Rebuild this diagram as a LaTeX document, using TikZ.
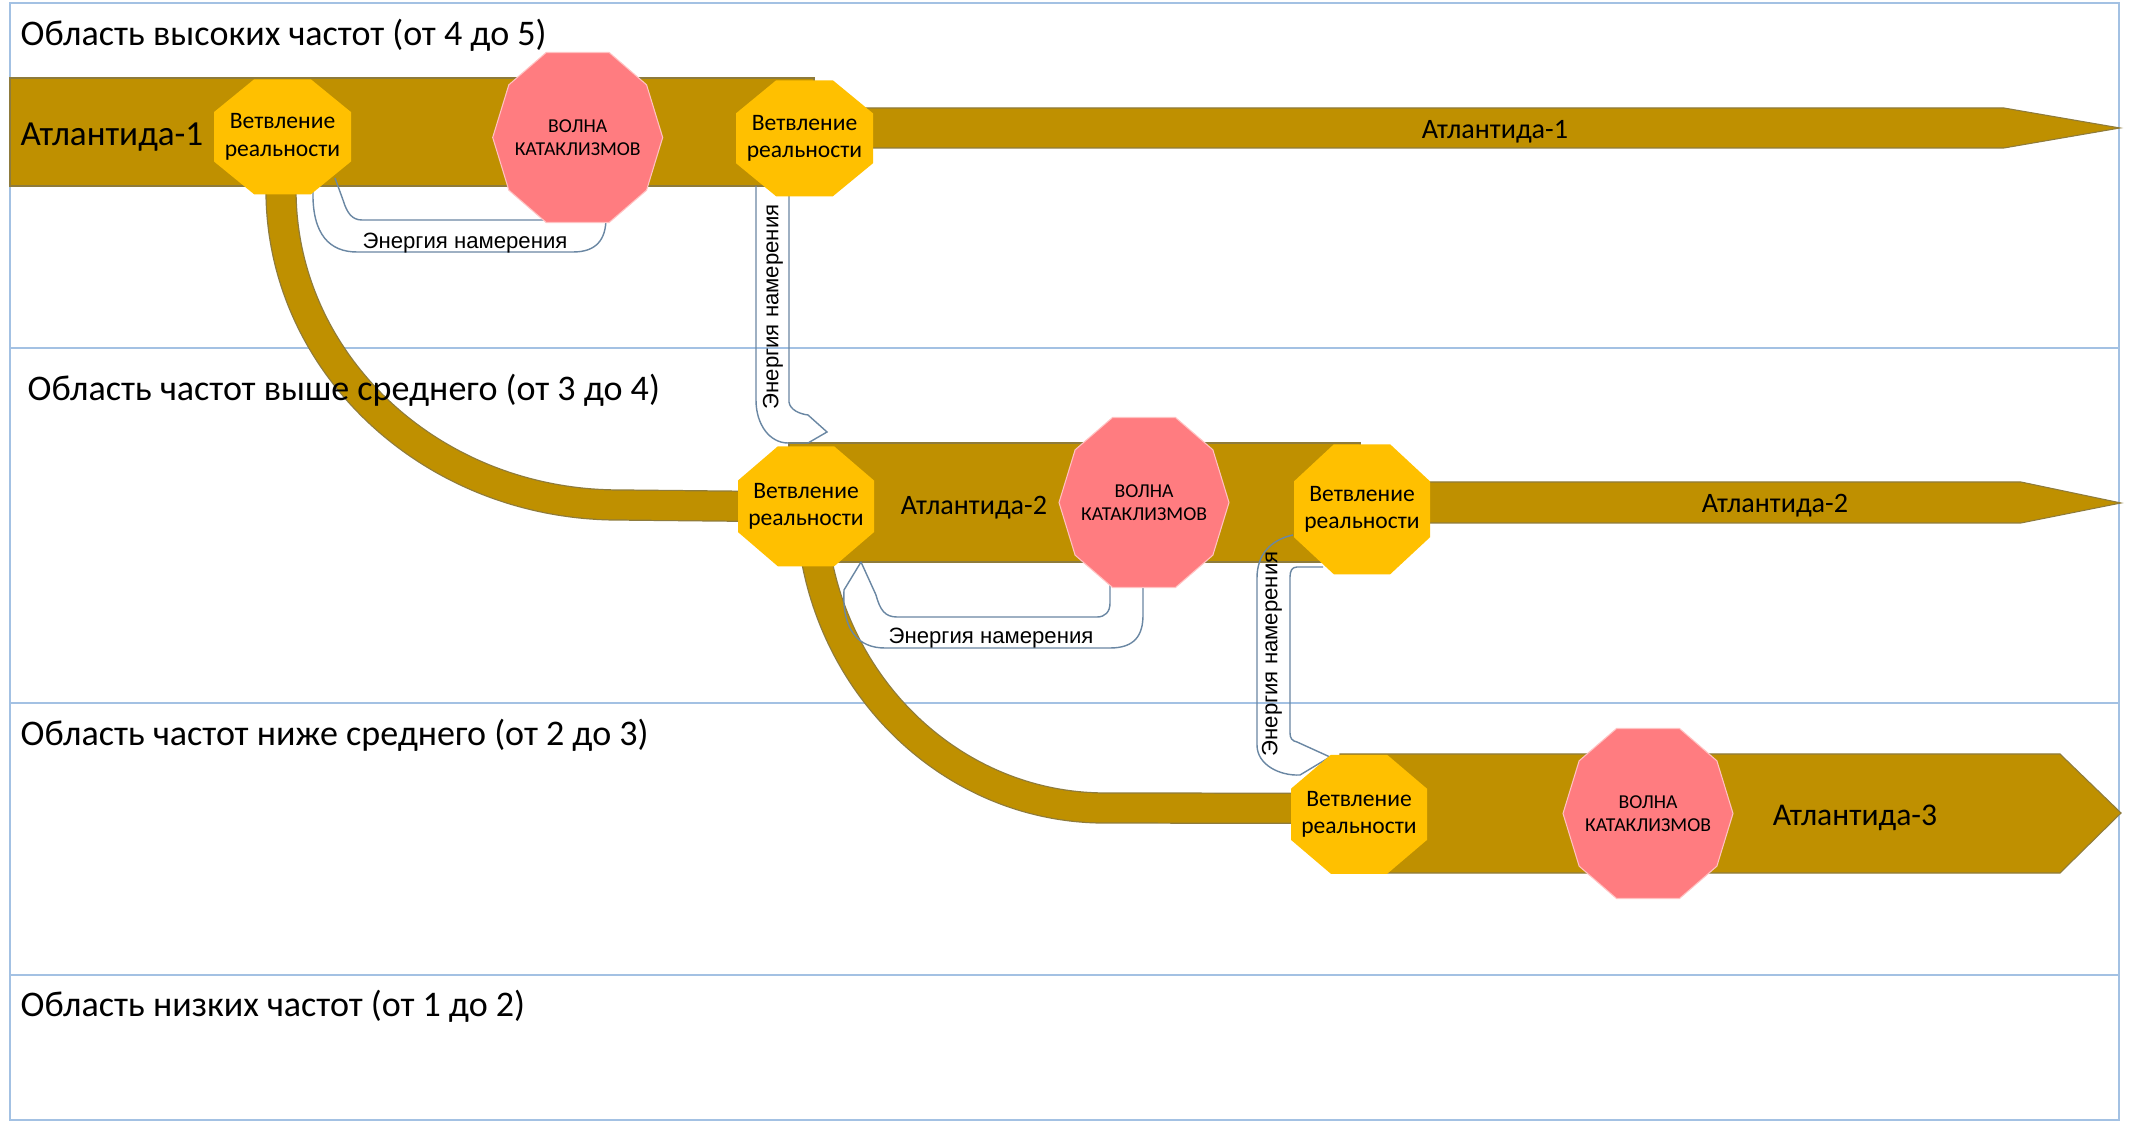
\documentclass[tikz,border=0pt]{standalone}
\usepackage{fontspec}
\setmainfont{Carlito}
\newfontfamily\arialf{Liberation Sans}
\usetikzlibrary{calc}
\definecolor{gold}{HTML}{BF9000}
\definecolor{goldedge}{HTML}{8E7B3C}
\definecolor{orangef}{HTML}{FFC000}
\definecolor{pinkf}{HTML}{FF7C80}
\definecolor{pinkedge}{HTML}{FFC2C2}
\definecolor{lanec}{HTML}{A3C1E3}
\definecolor{connc}{HTML}{6A87A3}
\pgfdeclarelayer{bg}
\pgfsetlayers{bg,main}
\newcommand\octo[3]{\fill[orangef] ($(#1)+({-0.414*#2},{-#3})$) -- ($(#1)+({0.414*#2},{-#3})$) -- ($(#1)+({#2},{-0.43*#3})$) -- ($(#1)+({#2},{0.43*#3})$) -- ($(#1)+({0.414*#2},{#3})$) -- ($(#1)+({-0.414*#2},{#3})$) -- ($(#1)+({-#2},{0.43*#3})$) -- ($(#1)+({-#2},{-0.43*#3})$) -- cycle;}
\newcommand\deca[3]{\filldraw[fill=pinkf,draw=pinkedge,line width=0.3pt] ($(#1)+({-0.37*#2},{-#3})$) -- ($(#1)+({0.37*#2},{-#3})$) -- ($(#1)+({0.81*#2},{-0.62*#3})$) -- ($(#1)+({#2},0)$) -- ($(#1)+({0.81*#2},{0.62*#3})$) -- ($(#1)+({0.37*#2},{#3})$) -- ($(#1)+({-0.37*#2},{#3})$) -- ($(#1)+({-0.81*#2},{0.62*#3})$) -- ($(#1)+({-#2},0)$) -- ($(#1)+({-0.81*#2},{-0.62*#3})$) -- cycle;}
\tikzset{
  lanetitle/.style={font=\fontsize{10.25}{12}\selectfont, anchor=west, inner sep=0pt},
  brtxt/.style={font=\fontsize{6.7}{7.9}\selectfont, align=center, inner sep=0pt},
  wavetxt/.style={font=\fontsize{5.6}{6.7}\selectfont, align=center, inner sep=0pt},
  biglbl/.style={font=\fontsize{10}{12}\selectfont, inner sep=0pt},
  midlbl/.style={font=\fontsize{8}{10}\selectfont, inner sep=0pt},
  entxt/.style={font=\arialf\fontsize{6.3}{7.5}\selectfont, inner sep=0pt},
  lane/.style={draw=lanec, line width=0.55pt},
  band/.style={fill=gold, draw=goldedge, line width=0.3pt},
  curveband/.style={draw=goldedge, line width=8.9pt, postaction={draw=gold, line width=8.2pt}},
  conn/.style={draw=connc, line width=0.4pt}
}
\begin{document}
\begin{tikzpicture}[x=0.01cm, y=-0.01cm]
\useasboundingbox (0,0) rectangle (2130,1122);
% text nodes
\node[lanetitle] (t1) at (20,35) {Область высоких частот (от 4 до 5)};
\node[lanetitle] (t2) at (27,390) {Область частот выше среднего (от 3 до 4)};
\node[lanetitle] (t3) at (20,735) {Область частот ниже среднего (от 2 до 3)};
\node[lanetitle] (t4) at (20,1006) {Область низких частот (от 1 до 2)};
\node[brtxt] (o1) at (282.5,136.8) {Ветвление\\реальности};
\node[brtxt] (o2) at (804.5,138.3) {Ветвление\\реальности};
\node[brtxt] (o3) at (806,506.3) {Ветвление\\реальности};
\node[brtxt] (o4) at (1362,509.3) {Ветвление\\реальности};
\node[brtxt] (o6) at (1359,814.3) {Ветвление\\реальности};
\node[wavetxt] (p1) at (577.7,137.5) {ВОЛНА\\КАТАКЛИЗМОВ};
\node[wavetxt] (p2) at (1144,502.5) {ВОЛНА\\КАТАКЛИЗМОВ};
\node[wavetxt] (p3) at (1648,813.5) {ВОЛНА\\КАТАКЛИЗМОВ};
\node[biglbl, anchor=west] (a1l) at (20,137) {Атлантида-1};
\node[midlbl] (a1r) at (1495,132) {Атлантида-1};
\node[midlbl] (a2l) at (974,508) {Атлантида-2};
\node[midlbl] (a2r) at (1775,506) {Атлантида-2};
\node[biglbl, font=\fontsize{9}{11}\selectfont] (a3) at (1855,818) {Атлантида-3};
\node[entxt] (e1) at (465,243.5) {Энергия намерения};
\node[entxt, rotate=90] (e2) at (773,307) {Энергия намерения};
\node[entxt] (e3) at (991,638.5) {Энергия намерения};
\node[entxt, rotate=90] (e4) at (1272,654) {Энергия намерения};
\begin{pgfonlayer}{bg}
\fill[white] (0,0) rectangle (2130,1122);
% lanes
\draw[lane] (10,3) rectangle (2119,1120);
\draw[lane] (10,348) -- (2119,348);
\draw[lane] (10,703) -- (2119,703);
\draw[lane] (10,975) -- (2119,975);
% bands
\draw[band] (10,78) rectangle (814,186);
\draw[band] (860,108) -- (2004,108) -- (2120,128) -- (2004,148) -- (860,148) -- cycle;
\draw[band] (789,443) rectangle (1360,562);
\draw[band] (1420,482) -- (2021,482) -- (2121,503) -- (2021,523) -- (1420,523) -- cycle;
\draw[band] (1340,754) -- (2060,754) -- (2121,813) -- (2060,873) -- (1340,873) -- cycle;
% curved branches
\draw[curveband] ($(o1)+(-1.5,25)$) -- (281,190) .. controls (281,364) and (432,505) .. (619,505) -- ($(o3)+(-60,0)$);
\draw[curveband] ($(o3)+(5,-10)$) -- (811,500) .. controls (811,670) and (943,808) .. (1105,808) -- ($(o6)+(-60,-6)$);
% energy connectors
\draw[conn] (313,191) .. controls (312,235) and (330,252) .. (357,252) -- (573,252) .. controls (596,252) and (606,240) .. (606,218);
\draw[conn] (335,178) -- (343,200) .. controls (347,213) and (352,220) .. (362,220) -- (560,220);
\draw[conn] (756,186) -- (756,400) .. controls (756,425) and (770,443) .. (788,443) -- (808,443);
\draw[conn] (789,195) -- (789,402) .. controls (790,410) and (800,414) .. (808,415) -- (827,432) -- (808,443);
\draw[conn] (861,562) -- (844,590) .. controls (842,630) and (858,648) .. (885,648) -- (1110,648) .. controls (1135,648) and (1143,635) .. (1143,615) -- (1143,585);
\draw[conn] (861,562) -- (876,595) .. controls (880,610) and (885,617) .. (897,617) -- (1097,617) .. controls (1105,617) and (1110,612) .. (1110,603) -- (1110,583);
\draw[conn] (1293,535) .. controls (1270,540) and (1257,555) .. (1257,578) -- (1257,745) .. controls (1257,765) and (1280,776) .. (1300,775) -- (1330,757);
\draw[conn] (1323,567) -- (1297,567) .. controls (1292,567) and (1290,571) .. (1290,577) -- (1290,733) .. controls (1290,738) and (1292,741) .. (1297,742) -- (1330,757);
% octagons
\octo{o1}{68.5}{57.5}
\octo{o2}{68.5}{58}
\octo{o3}{68}{60}
\octo{o4}{68}{65}
\octo{o6}{68}{59.5}
% decagons
\deca{p1}{85}{85}
\deca{p2}{85}{85}
\deca{p3}{85}{85}
\end{pgfonlayer}
\end{tikzpicture}
\end{document}
